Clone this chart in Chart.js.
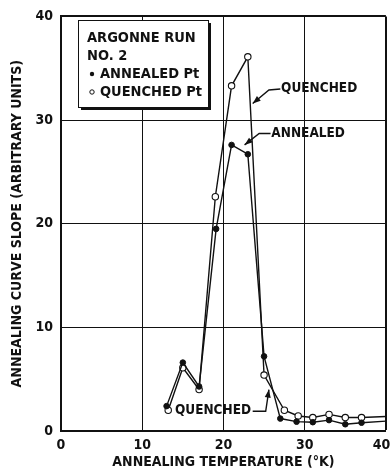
<!DOCTYPE html>
<html>
<head>
<meta charset="utf-8">
<script src="https://cdn.jsdelivr.net/npm/chart.js@4.4.0/dist/chart.umd.min.js"></script>
<style>
  html, body { margin: 0; padding: 0; background: #fff; }
  #box { width: 391px; height: 471px; }
</style>
</head>
<body>
<div id="box"><canvas id="chart" width="391" height="471"></canvas></div>
<script>
// readings
var annealedT = [13, 15, 17, 19.1, 21, 23, 25, 27, 29, 31, 33, 35, 37, 40];
var annealedS = [2.4, 6.6, 4.3, 19.5, 27.6, 26.7, 7.2, 1.2, 0.9, 0.85, 1.05, 0.65, 0.8, 0.95];
var quenchedT = [13.2, 15, 17, 19, 21, 23, 25, 27.5, 29.2, 31, 33, 35, 37, 40];
var quenchedS = [2.0, 6.1, 4.0, 22.6, 33.3, 36.1, 5.4, 2.0, 1.45, 1.3, 1.6, 1.3, 1.3, 1.4];
var xTicks = [0, 10, 20, 30, 40];
var yTicks = [0, 10, 20, 30, 40];
var legendLines = ['ARGONNE RUN', 'NO. 2'];

var ink = '#111';
var fontFam = '"DejaVu Sans Condensed", "Liberation Sans Narrow", "Liberation Sans", sans-serif';

function toPoints(xs, ys) {
    var pts = [];
    for (var i = 0; i < xs.length; i++) pts.push({x: xs[i], y: ys[i]});
    return pts;
}
// no marker on the last point, the line just runs out to the frame
function radii(n, r) {
    var out = [];
    for (var i = 0; i < n; i++) out.push(i === n - 1 ? 0 : r);
    return out;
}

// legend box + call-outs
var extras = {
    id: 'extras',
    afterDraw: function (chart) {
        var ctx = chart.ctx;
        var xs = chart.scales.x, ys = chart.scales.y;
        function px(v) { return xs.getPixelForValue(v); }
        function py(v) { return ys.getPixelForValue(v); }
        ctx.save();
        ctx.fillStyle = ink;
        ctx.strokeStyle = ink;

        // legend box with heavy shadow on right/bottom
        var bx = 78, by = 20, bw = 130, bh = 87;
        ctx.fillStyle = '#fff';
        ctx.fillRect(bx, by, bw, bh);
        ctx.fillStyle = ink;
        ctx.fillRect(bx + bw, by + 3, 3, bh);
        ctx.fillRect(bx + 3, by + bh, bw, 3);
        ctx.lineWidth = 1;
        ctx.strokeRect(bx + 0.5, by + 0.5, bw, bh);

        ctx.font = 'bold 14.5px ' + fontFam;
        ctx.textBaseline = 'middle';
        ctx.textAlign = 'left';
        ctx.fillText(legendLines[0], 87, 38);
        ctx.fillText(legendLines[1], 87, 56);
        ctx.beginPath(); ctx.arc(92, 74, 2.2, 0, Math.PI * 2); ctx.fill();
        ctx.fillText('ANNEALED Pt', 100, 74);
        ctx.beginPath(); ctx.arc(92, 92, 2.2, 0, Math.PI * 2);
        ctx.lineWidth = 1; ctx.stroke();
        ctx.fillText('QUENCHED Pt', 100, 92);

        function arrow(pts) {
            ctx.lineWidth = 1.4;
            ctx.beginPath();
            ctx.moveTo(pts[0][0], pts[0][1]);
            for (var i = 1; i < pts.length; i++) ctx.lineTo(pts[i][0], pts[i][1]);
            ctx.stroke();
            var a = pts[pts.length - 2], b = pts[pts.length - 1];
            var ang = Math.atan2(b[1] - a[1], b[0] - a[0]);
            var L = 8, W = 3;
            ctx.beginPath();
            ctx.moveTo(b[0], b[1]);
            ctx.lineTo(b[0] - L * Math.cos(ang) + W * Math.sin(ang), b[1] - L * Math.sin(ang) - W * Math.cos(ang));
            ctx.lineTo(b[0] - L * Math.cos(ang) - W * Math.sin(ang), b[1] - L * Math.sin(ang) + W * Math.cos(ang));
            ctx.closePath();
            ctx.fill();
        }

        ctx.font = 'bold 13.5px ' + fontFam;
        // upper QUENCHED
        ctx.fillText('QUENCHED', px(27.1), py(33.0));
        arrow([[px(27.0), py(33.0)], [px(25.6), py(32.9)], [px(23.6), py(31.6)]]);
        // ANNEALED
        ctx.fillText('ANNEALED', px(25.9), py(28.7));
        arrow([[px(25.8), py(28.7)], [px(24.4), py(28.7)], [px(22.6), py(27.6)]]);
        // lower QUENCHED
        ctx.textAlign = 'right';
        ctx.fillText('QUENCHED', px(23.4), py(2.0));
        arrow([[px(23.6), py(1.9)], [px(25.2), py(1.9)], [px(25.6), py(4.0)]]);
        ctx.restore();
    }
};

var data = {
    datasets: [{
        label: 'ANNEALED Pt',
        data: toPoints(annealedT, annealedS),
        borderColor: ink,
        borderWidth: 1.4,
        backgroundColor: ink,
        pointBackgroundColor: ink,
        pointBorderColor: ink,
        pointRadius: radii(annealedT.length, 2.8),
        pointBorderWidth: 1,
        showLine: true,
        tension: 0
    }, {
        label: 'QUENCHED Pt',
        data: toPoints(quenchedT, quenchedS),
        borderColor: ink,
        borderWidth: 1.4,
        backgroundColor: '#fff',
        pointBackgroundColor: '#fff',
        pointBorderColor: ink,
        pointRadius: radii(quenchedT.length, 3.2),
        pointBorderWidth: 1.1,
        showLine: true,
        tension: 0
    }]
};

var tickFont = { family: fontFam, size: 14, weight: 'bold' };
var titleFont = { family: fontFam, size: 14, weight: 'bold' };

var options = {
    responsive: false,
    animation: false,
    layout: { padding: { top: 13, right: 4, left: 0, bottom: 0 } },
    plugins: { legend: { display: false }, tooltip: { enabled: false } },
    scales: {
        x: {
            type: 'linear',
            min: 0, max: 40,
            afterBuildTicks: function (s) { s.ticks = xTicks.map(function (v) { return {value: v}; }); },
            afterFit: function (s) { s.height = 40; s.paddingRight = 0; s.paddingLeft = 0; },
            grid: {
                color: ink,
                lineWidth: function (c) { return c.tick && c.tick.value === 40 ? 2 : 1; },
                drawTicks: false
            },
            border: { color: ink, width: 2 },
            ticks: {
                color: ink, padding: 6, font: tickFont,
                // last label sits a bit inside the frame edge
                callback: function (v) { return v === 40 ? v + '  ' : '' + v; }
            },
            title: {
                display: true,
                text: 'ANNEALING TEMPERATURE (°K)',
                color: ink,
                font: titleFont,
                padding: { top: 1, bottom: 0 }
            }
        },
        y: {
            min: 0, max: 40,
            afterBuildTicks: function (s) { s.ticks = yTicks.map(function (v) { return {value: v}; }); },
            afterFit: function (s) { s.width = 61; },
            grid: {
                color: ink,
                lineWidth: function (c) { return c.tick && c.tick.value === 40 ? 2 : 1; },
                drawTicks: false
            },
            border: { color: ink, width: 2 },
            ticks: { color: ink, padding: 8, font: tickFont },
            title: {
                display: true,
                text: 'ANNEALING CURVE SLOPE (ARBITRARY UNITS)',
                color: ink,
                font: titleFont,
                padding: { top: 9, bottom: 0 }
            }
        }
    }
};

var ctx = document.getElementById('chart').getContext('2d');
var myChart = new Chart(ctx, {
    type: 'scatter',
    data: data,
    options: options,
    plugins: [extras]
});
</script>
</body>
</html>
